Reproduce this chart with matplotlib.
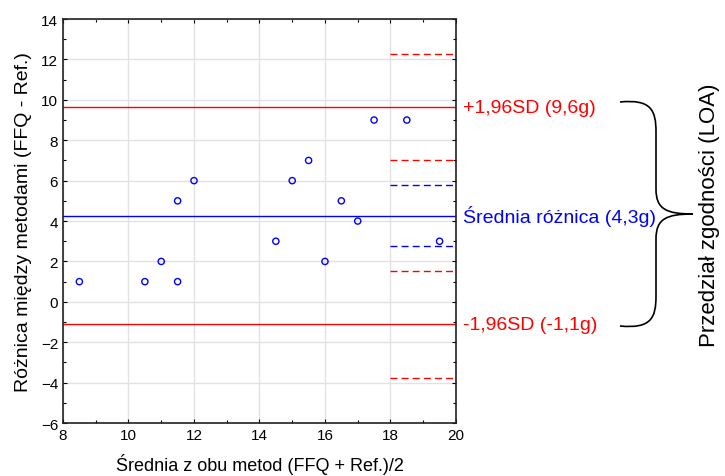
import matplotlib
matplotlib.use("Agg")
import matplotlib.pyplot as plt
from matplotlib.path import Path
from matplotlib.patches import PathPatch
from matplotlib.ticker import MultipleLocator

x_mean = [8.5, 10.5, 11.0, 11.5, 11.5, 12.0, 14.5, 15.0, 15.5, 16.0, 16.5, 17.0, 17.5, 18.5, 19.5]
y_diff = [1, 1, 2, 1, 5, 6, 3, 6, 7, 2, 5, 4, 9, 9, 3]

mean_diff = 4.27
upper_loa = 9.63
lower_loa = -1.12
ci_red = [12.27, 7.0, 1.52, -3.75]
ci_blue = [5.78, 2.75]

labels = ["+1,96SD (9,6g)", "Średnia różnica (4,3g)", "-1,96SD (-1,1g)"]
loa_title = "Przedział zgodności (LOA)"
xlabel = "Średnia z obu metod (FFQ + Ref.)/2"
ylabel = "Różnica między metodami (FFQ - Ref.)"

plt.rcParams['font.family'] = ['Liberation Sans', 'DejaVu Sans']

fig = plt.figure(figsize=(7.25, 4.77), dpi=100)
ax = fig.add_axes([0.0869, 0.111, 0.5420, 0.847])

ax.set_xlim(8, 20)
ax.set_ylim(-6, 14)
ax.xaxis.set_major_locator(MultipleLocator(2))
ax.xaxis.set_minor_locator(MultipleLocator(1))
ax.yaxis.set_major_locator(MultipleLocator(2))
ax.yaxis.set_minor_locator(MultipleLocator(1))
ax.grid(True, which='major', color='#e2e2e2', linewidth=1.0, zorder=0)
ax.tick_params(which='both', direction='in', top=True, right=True, labelsize=11, colors='black')
ax.tick_params(which='major', length=3, width=0.8)
ax.tick_params(which='minor', length=2, width=0.8)
for s in ax.spines.values():
    s.set_linewidth(1.2)
    s.set_color('#222222')

ax.axhline(upper_loa, color='red', linewidth=1.0, zorder=2)
ax.axhline(lower_loa, color='red', linewidth=1.0, zorder=2)
ax.axhline(mean_diff, color='blue', linewidth=1.0, zorder=2)
for v in ci_red:
    ax.plot([18, 20], [v, v], color='red', linestyle=(0, (5, 3)), linewidth=1.0, zorder=2)
for v in ci_blue:
    ax.plot([18, 20], [v, v], color='blue', linestyle=(0, (5, 3)), linewidth=1.0, zorder=2)

ax.scatter(x_mean, y_diff, s=20, facecolors='none', edgecolors='blue', linewidths=1.0, zorder=3)

ax.set_xlabel(xlabel, fontsize=13, labelpad=8)
ax.set_ylabel(ylabel, fontsize=14, labelpad=6)

tx = 20.2
ax.text(tx, upper_loa, labels[0], color='red', fontsize=14, va='center', ha='left', clip_on=False)
ax.text(tx, mean_diff, labels[1], color='blue', fontsize=14, va='center', ha='left', clip_on=False)
ax.text(tx, lower_loa, labels[2], color='red', fontsize=14, va='center', ha='left', clip_on=False)

# curly brace in figure pixel coords
W, H = 725, 477
def fc(px, py):
    return (px / W, 1 - py / H)
xl, xm, xr = 620, 656, 693
yt, yc, yb = 103, 215, 327
verts = [fc(xl, yt),
         fc(xm - 5, yt - 3), fc(xm, yt + 8), fc(xm, yt + 30),
         fc(xm, yc - 25),
         fc(xm, yc - 5), fc(xm + 10, yc), fc(xr, yc),
         fc(xm + 10, yc), fc(xm, yc + 5), fc(xm, yc + 25),
         fc(xm, yb - 30),
         fc(xm, yb - 8), fc(xm - 5, yb + 3), fc(xl, yb)]
codes = [Path.MOVETO,
         Path.CURVE4, Path.CURVE4, Path.CURVE4,
         Path.LINETO,
         Path.CURVE4, Path.CURVE4, Path.CURVE4,
         Path.CURVE4, Path.CURVE4, Path.CURVE4,
         Path.LINETO,
         Path.CURVE4, Path.CURVE4, Path.CURVE4]
fig.patches.append(PathPatch(Path(verts, codes), transform=fig.transFigure,
                             facecolor='none', edgecolor='black', linewidth=1.2))

fig.text(710 / W, 1 - 215 / H, loa_title, rotation=90, fontsize=16,
         va='center', ha='center')

fig.savefig("out.png", dpi=100)
